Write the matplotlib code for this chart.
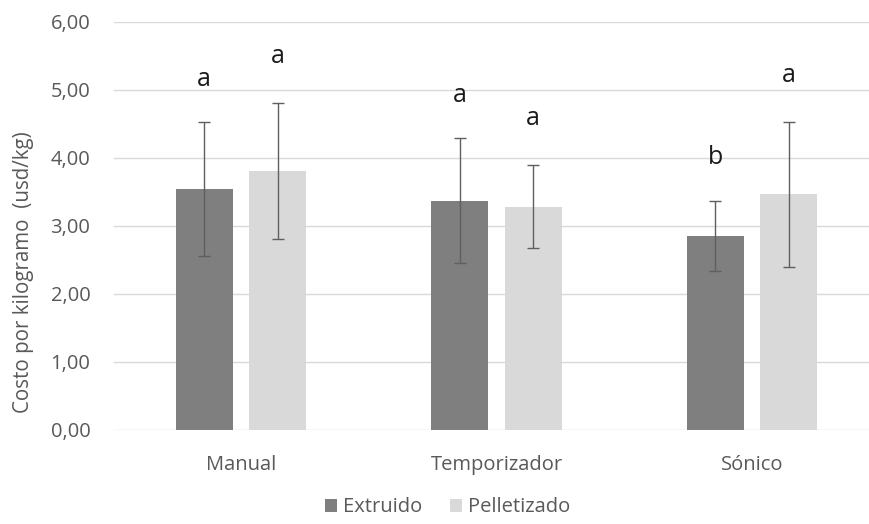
import numpy as np
import matplotlib
matplotlib.use("Agg")
import matplotlib.pyplot as plt

plt.rcParams['font.family'] = ['Open Sans', 'DejaVu Sans']

# datos
categorias = ['Manual', 'Temporizador', 'Sónico']
extruido = [3.54, 3.37, 2.85]
extruido_err = [0.98, 0.92, 0.52]
pelletizado = [3.80, 3.28, 3.46]
pelletizado_err = [1.00, 0.61, 1.07]
letras_ext = ['a', 'a', 'b']
letras_pel = ['a', 'a', 'a']

gris_txt = '#595959'
x = np.arange(len(categorias))
ancho = 0.223
desp = 0.144

fig = plt.figure(figsize=(8.69, 5.24), dpi=100)
ax = fig.add_axes([114 / 869, 1 - 430 / 524, (869 - 114) / 869, (430 - 21.5) / 524])

ax.bar(x - desp, extruido, ancho, color='#7f7f7f', label='Extruido', zorder=2)
ax.bar(x + desp, pelletizado, ancho, color='#d9d9d9', label='Pelletizado', zorder=2)
ax.errorbar(x - desp, extruido, yerr=extruido_err, fmt='none', ecolor='#5f5f5f',
            elinewidth=1, capsize=4, capthick=1, zorder=3)
ax.errorbar(x + desp, pelletizado, yerr=pelletizado_err, fmt='none', ecolor='#5f5f5f',
            elinewidth=1, capsize=4, capthick=1, zorder=3)

# letras de significancia
for i in range(len(categorias)):
    ax.text(x[i] - desp, extruido[i] + extruido_err[i] + 0.63, letras_ext[i],
            ha='center', va='center', fontsize=18, color='#1a1a1a')
    ax.text(x[i] + desp, pelletizado[i] + pelletizado_err[i] + 0.68, letras_pel[i],
            ha='center', va='center', fontsize=18, color='#1a1a1a')

ax.set_ylim(0, 6)
ax.set_xlim(-0.497, 2.458)
ax.set_yticks(np.arange(0, 6.01, 1))
ax.yaxis.set_major_formatter(matplotlib.ticker.FuncFormatter(lambda v, p: ('%.2f' % v).replace('.', ',')))
ax.set_xticks(x)
ax.set_xticklabels(categorias)
ax.tick_params(axis='both', length=0, labelsize=14.5, colors=gris_txt)
ax.tick_params(axis='y', pad=17)
ax.tick_params(axis='x', pad=18)
ax.grid(axis='y', color='#d9d9d9', linewidth=1, zorder=0)
for s in ['top', 'right', 'left', 'bottom']:
    ax.spines[s].set_visible(False)

ax.set_ylabel('Costo por kilogramo  (usd/kg)', fontsize=14.8, color=gris_txt)
ax.yaxis.label.set_verticalalignment('center')
ax.yaxis.set_label_coords(-0.1205, 0.387)

fig.legend(loc='lower center', bbox_to_anchor=(0.515, -0.022), ncol=2, frameon=False,
           fontsize=14.5, labelcolor=gris_txt, handlelength=0.6, handleheight=0.6,
           handletextpad=0.3, columnspacing=1.4)

fig.savefig('out.png', dpi=100)
